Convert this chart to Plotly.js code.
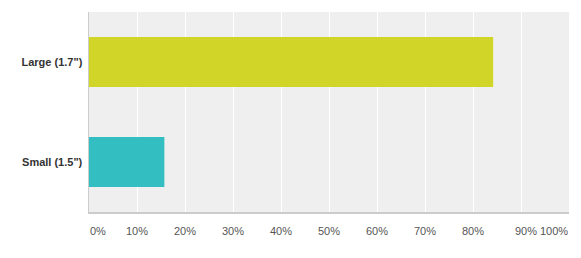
<!DOCTYPE html>
<html>
<head>
<meta charset="utf-8">
<script src="https://cdn.plot.ly/plotly-3.0.1.min.js"></script>
<style>html,body{margin:0;padding:0;background:#fff;}#chart{width:581px;height:258px;}</style>
</head>
<body>
<div id="chart"></div>
<script>
var categories = ['Small (1.5")', 'Large (1.7")'];
var values = [15.7, 84.2];
var barColors = ['#33bec1', '#d0d528'];
var gridVals = [0, 10, 20, 30, 40, 50, 60, 70, 80, 90, 100];
var tickVals = [10, 20, 30, 40, 50, 60, 70, 80];
var tickLabels = ['10%', '20%', '30%', '40%', '50%', '60%', '70%', '80%'];
var edgeTickVals = [0, 90, 100];
var edgeTickLabels = ['0%', '90%', '100%'];

var FONT = 'Liberation Sans, Arial, Helvetica, sans-serif';
var LABEL_COLOR = '#555555';

var traces = [{
  type: 'bar',
  orientation: 'h',
  y: categories,
  x: values,
  width: 0.5,
  marker: {color: barColors},
  hoverinfo: 'none'
}];

var edgeAnchors = ['left', 'center', 'right'];
var edgeShifts = [0, 5, 0];
var annotations = edgeTickVals.map(function (v, i) {
  return {
    x: v, xref: 'x',
    y: 0, yref: 'paper',
    text: edgeTickLabels[i],
    showarrow: false,
    xanchor: edgeAnchors[i],
    yanchor: 'middle',
    xshift: edgeShifts[i],
    yshift: -19,
    borderpad: 0,
    font: {family: FONT, size: 11, color: LABEL_COLOR}
  };
});

var layout = {
  width: 581,
  height: 258,
  margin: {l: 89, r: 12, t: 12, b: 46},
  paper_bgcolor: '#ffffff',
  plot_bgcolor: '#efefef',
  showlegend: false,
  font: {family: FONT, size: 11, color: LABEL_COLOR},
  annotations: annotations,
  xaxis: {
    range: [0, 100],
    tickvals: tickVals,
    ticktext: tickLabels,
    showgrid: false,
    zeroline: false,
    showline: true,
    linecolor: '#cccccc',
    linewidth: 1.5,
    ticks: '',
    ticklabelstandoff: 8,
    tickfont: {family: FONT, size: 11, color: LABEL_COLOR},
    minor: {tickvals: gridVals, showgrid: true, gridcolor: '#ffffff', gridwidth: 1, ticks: ''},
    fixedrange: true
  },
  yaxis: {
    range: [-0.5, 1.5],
    showgrid: false,
    zeroline: false,
    showline: true,
    linecolor: '#cccccc',
    linewidth: 1.5,
    ticks: '',
    ticklabelstandoff: 3,
    tickfont: {family: FONT, size: 11, color: '#333333', weight: 'bold'},
    fixedrange: true
  }
};

Plotly.newPlot('chart', traces, layout, {staticPlot: true, displayModeBar: false});
</script>
</body>
</html>
